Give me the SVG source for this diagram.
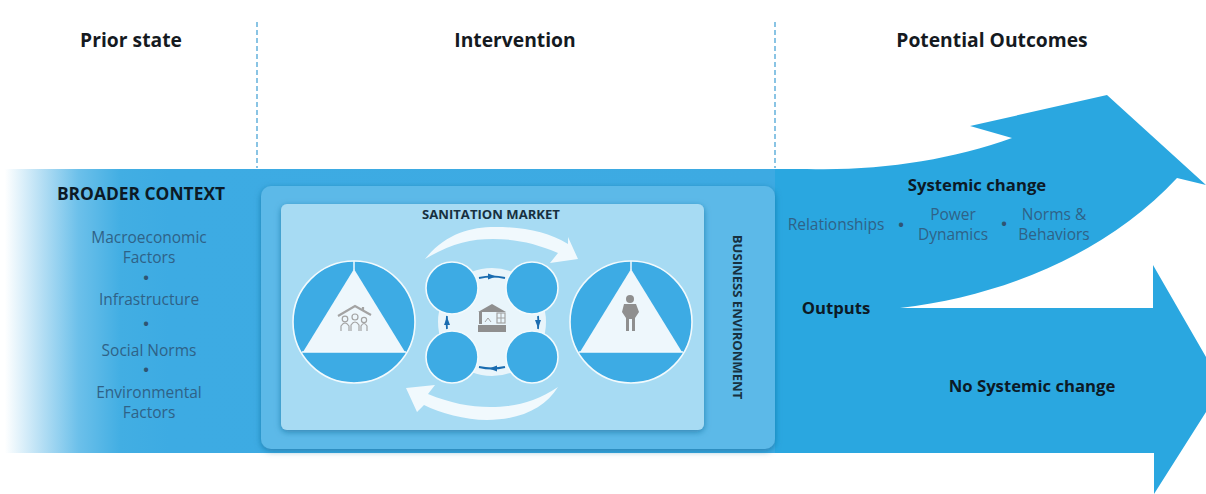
<svg xmlns="http://www.w3.org/2000/svg" width="1206" height="494" viewBox="0 0 1206 494">
<style>
text{font-family:"Open Sans","Noto Sans","Liberation Sans",sans-serif}
.h{font-size:19.3px;font-weight:700;fill:#151a1f;text-anchor:middle}
.b{font-size:16.7px;font-weight:700;fill:#0c1a26;text-anchor:middle}
.s{font-size:13.1px;font-weight:700;fill:#17303f;text-anchor:middle}
.m{font-size:15.5px;fill:#2f6287;text-anchor:middle}
.d{font-size:15px;font-weight:700;fill:#2f5573;text-anchor:middle}
.div{stroke:#6db6de;stroke-width:1.6;stroke-dasharray:5 3;fill:none}
.c{fill:#3dabe4;stroke:#f2fafd;stroke-width:1.6}
.tri{fill:#eef7fc}
.ic{fill:#8f8f8f}
.icl{fill:none;stroke:#a3a3a3;stroke-width:1.5}
.w{fill:#f1f9fd}
.sa{stroke:#1a6cb0;stroke-width:1.8;fill:none}
.sh{fill:#1a6cb0}
</style>
<defs>
<linearGradient id="fade" gradientUnits="userSpaceOnUse" x1="0" y1="0" x2="1206" y2="0">
<stop offset="0.004" stop-color="#ffffff"/>
<stop offset="0.035" stop-color="#b4def4"/>
<stop offset="0.065" stop-color="#6cc0ea"/>
<stop offset="0.1" stop-color="#42aee3"/>
<stop offset="0.14" stop-color="#3dabe3"/>
<stop offset="0.6426" stop-color="#3daae2"/>
<stop offset="0.6426" stop-color="#2aa7e0"/>
</linearGradient>
<filter id="sh" x="-5%" y="-5%" width="110%" height="110%">
<feDropShadow dx="0" dy="2" stdDeviation="3" flood-color="#15648f" flood-opacity="0.6"/>
</filter>
</defs>

<g id="flow-band">
<path fill="url(#fade)" d="M0 169H807C880 171 950 160 1012 138L970 126L1107 95L1206 185L1177 178C1110 250 1010 295 900 308H1153V265L1206 357V412L1154 494V453H0Z"/>
</g>

<g id="dividers">
<path class="div" d="M257 22V168"/>
<path class="div" d="M775 22V168"/>
</g>

<g id="headers">
<text class="h" x="131" y="47">Prior state</text>
<text class="h" x="515" y="47">Intervention</text>
<text class="h" x="992" y="47">Potential Outcomes</text>
</g>

<g id="broader-context">
<text class="b" x="141" y="200" style="font-size:17.4px">BROADER CONTEXT</text>
<text class="m" x="149" y="243">Macroeconomic</text>
<text class="m" x="149" y="263">Factors</text>
<text class="d" x="146" y="283">•</text>
<text class="m" x="149" y="305">Infrastructure</text>
<text class="d" x="146" y="329">•</text>
<text class="m" x="149" y="356">Social Norms</text>
<text class="d" x="146" y="375">•</text>
<text class="m" x="149" y="398">Environmental</text>
<text class="m" x="149" y="418">Factors</text>
</g>

<g id="business-environment">
<rect x="261" y="186" width="514" height="263" rx="10" fill="#5cb9e8" filter="url(#sh)"/>
<text class="s" transform="translate(733 317) rotate(90)">BUSINESS ENVIRONMENT</text>
</g>

<g id="sanitation-market">
<rect x="281" y="204" width="423" height="226" rx="6" fill="#a7dbf3" filter="url(#sh)"/>
<text class="s" x="491" y="219">SANITATION MARKET</text>
</g>

<g id="household">
<circle class="c" cx="354" cy="322" r="61"/>
<path class="tri" d="M354 269L405 352H303Z"/>
<path d="M354 261V270M302 352H406" stroke="#f2fafd" stroke-width="1.5"/>
<path class="icl" style="stroke-width:2.2" d="M338 316L355 306L371 315M363 307V311"/>
<g class="icl" style="stroke-width:1.2">
<circle cx="345" cy="319" r="2.8"/><circle cx="355" cy="317" r="3"/><circle cx="364" cy="320" r="2.6"/>
<path d="M341 331V326Q345 320 349 326V331M351 331V325Q355 319 359 325V331M361 331V326Q364 321 367 326V331"/>
</g>
</g>

<g id="enterprise">
<circle cx="492" cy="322" r="54" fill="#e9f5fb"/>
<circle class="c" cx="452" cy="288" r="26"/>
<circle class="c" cx="532" cy="288" r="26"/>
<circle class="c" cx="452" cy="357" r="26"/>
<circle class="c" cx="532" cy="357" r="26"/>
<path class="ic" d="M478 312L492 304L506 312Z"/>
<rect class="ic" x="479" y="312" width="3" height="12"/>
<rect class="icl" style="stroke-width:1.2" x="497" y="313" width="8" height="10"/>
<path class="icl" style="stroke-width:1" d="M485 322L488 318L491 322M501 313V323M497 318H505"/>
<rect class="ic" x="478" y="325" width="28" height="7"/>
</g>

<g id="person">
<circle class="c" cx="631" cy="322" r="61"/>
<path class="tri" d="M631 269L682 352H580Z"/>
<path d="M631 261V270M579 352H683" stroke="#f2fafd" stroke-width="1.5"/>
<circle class="ic" cx="630" cy="299" r="4"/>
<path class="ic" d="M624 304H636L639 312L635 318V331H632V319H629V331H626V318L622 312Z"/>
</g>

<g id="connectors">
<path class="w" d="M425 259C445 234 470 227 495 227C525 227 548 232 568 244L568 237L578 259L550 263L558 253C535 243 515 239 493 239C470 239 450 244 425 259Z"/>
<path class="w" d="M558 387C545 408 520 420 487 420C465 420 440 413 424 405L417 412L406 388L435 385L428 394C450 403 470 407 490 407C515 407 535 402 558 387Z"/>
<path class="sa" d="M479 278Q492 275 505 278"/><path class="sh" d="M488 273.500L496 276.500L488 279.500Z"/>
<path class="sa" d="M505 367Q492 370 479 367"/><path class="sh" d="M497 365.500L489 368.500L497 371.500Z"/>
<path class="sa" d="M447 329Q446 322 447 316"/><path class="sh" d="M444 325L447 317L450 325Z"/>
<path class="sa" d="M538 316Q539 322 538 329"/><path class="sh" d="M535 320L538 328L541 320Z"/>
</g>

<g id="outcomes">
<text class="b" x="977" y="191">Systemic change</text>
<text class="m" x="836" y="230">Relationships</text>
<text class="d" x="901" y="230">•</text>
<text class="m" x="953" y="220">Power</text>
<text class="m" x="953" y="240">Dynamics</text>
<text class="d" x="1004" y="229">•</text>
<text class="m" x="1054" y="220">Norms &amp;</text>
<text class="m" x="1054" y="240">Behaviors</text>
<text class="b" x="836" y="314">Outputs</text>
<text class="b" x="1032" y="392">No Systemic change</text>
</g>
</svg>
